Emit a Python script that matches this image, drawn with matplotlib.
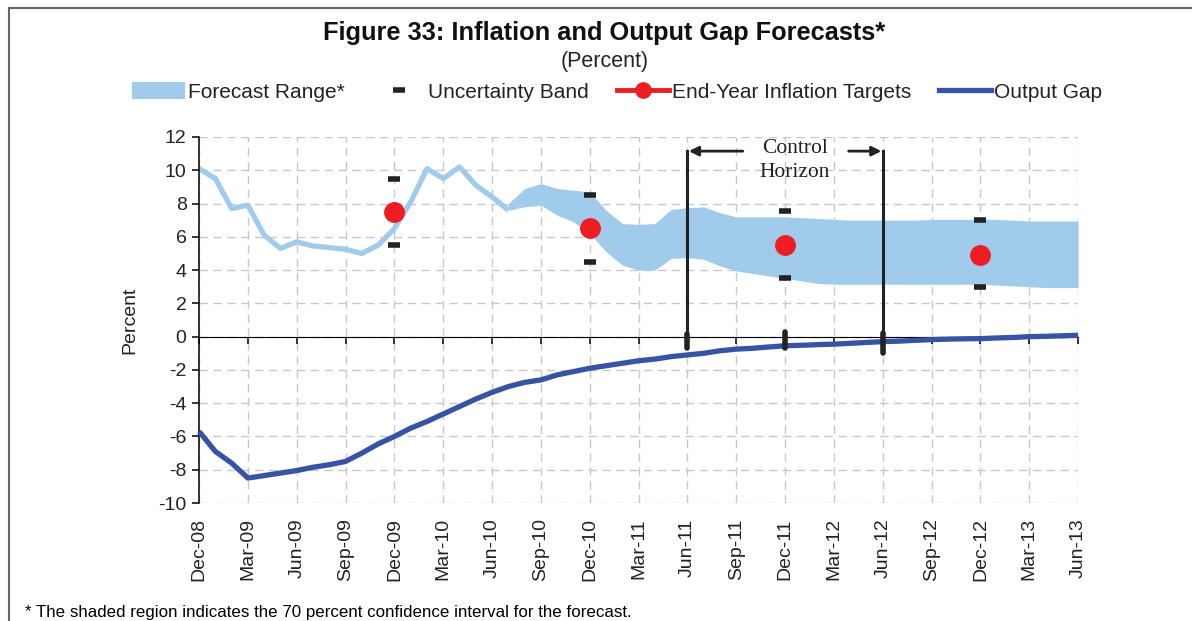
import numpy as np
import matplotlib
matplotlib.use('Agg')
from matplotlib import pyplot as plt
from matplotlib.patches import Patch
from matplotlib.lines import Line2D

plt.rcParams['font.family'] = ['Liberation Sans', 'DejaVu Sans']
plt.rcParams['axes.unicode_minus'] = False

# monthly axis, Dec-08 .. Jun-13
months = ['Dec-08', 'Jan-09', 'Feb-09', 'Mar-09', 'Apr-09', 'May-09', 'Jun-09', 'Jul-09', 'Aug-09',
          'Sep-09', 'Oct-09', 'Nov-09', 'Dec-09', 'Jan-10', 'Feb-10', 'Mar-10', 'Apr-10', 'May-10',
          'Jun-10', 'Jul-10', 'Aug-10', 'Sep-10', 'Oct-10', 'Nov-10', 'Dec-10', 'Jan-11', 'Feb-11',
          'Mar-11', 'Apr-11', 'May-11', 'Jun-11', 'Jul-11', 'Aug-11', 'Sep-11', 'Oct-11', 'Nov-11',
          'Dec-11', 'Jan-12', 'Feb-12', 'Mar-12', 'Apr-12', 'May-12', 'Jun-12', 'Jul-12', 'Aug-12',
          'Sep-12', 'Oct-12', 'Nov-12', 'Dec-12', 'Jan-13', 'Feb-13', 'Mar-13', 'Apr-13', 'May-13',
          'Jun-13']
tick_labels = months[::3]

# actual inflation, Dec-08 .. Jul-10
inflation = [10.1, 9.5, 7.7, 7.9, 6.1, 5.3, 5.7, 5.45, 5.35, 5.25, 5.0, 5.5, 6.5, 8.1,
             10.1, 9.5, 10.2, 9.1, 8.4, 7.6]

# forecast range, Jul-10 .. Jun-13
band_upper = [8.0, 8.9, 9.2, 8.9, 8.8, 8.7, 7.6, 6.8, 6.75, 6.8, 7.65, 7.75,
              7.8, 7.45, 7.2, 7.2, 7.2, 7.2, 7.15, 7.1, 7.05, 7.0, 7.0, 7.0,
              7.0, 7.0, 7.05, 7.05, 7.05, 7.05, 7.05, 7.0, 6.95, 6.95, 6.95, 6.95]
band_lower = [7.6, 7.8, 7.9, 7.3, 6.9, 6.2, 5.1, 4.3, 4.0, 4.0, 4.7, 4.75,
              4.65, 4.25, 3.95, 3.8, 3.65, 3.5, 3.35, 3.2, 3.15, 3.15, 3.15, 3.15,
              3.15, 3.15, 3.15, 3.15, 3.15, 3.15, 3.1, 3.05, 3.0, 2.95, 2.95, 2.95]

# output gap, Dec-08 .. Jun-13
output_gap = [-5.7, -6.9, -7.6, -8.5, -8.35, -8.2, -8.05, -7.85, -7.7, -7.5, -7.0, -6.45,
              -6.0, -5.5, -5.1, -4.65, -4.2, -3.75, -3.35, -3.0, -2.75, -2.6, -2.3, -2.1,
              -1.9, -1.75, -1.6, -1.45, -1.35, -1.2, -1.1, -1.0, -0.85, -0.75, -0.7, -0.62,
              -0.55, -0.52, -0.48, -0.45, -0.4, -0.35, -0.3, -0.27, -0.22, -0.18, -0.15, -0.13,
              -0.12, -0.08, -0.05, 0.0, 0.02, 0.05, 0.08]

# end-year targets and uncertainty band
target_months = ['Dec-09', 'Dec-10', 'Dec-11', 'Dec-12']
targets = [7.5, 6.5, 5.5, 4.9]
unc_upper = [9.5, 8.5, 7.55, 7.0]
unc_lower = [5.5, 4.5, 3.5, 3.0]

horizon_start, horizon_end = 'Jun-11', 'Jun-12'

light_blue = '#A0CBEB'
dark_blue = '#3753A4'
red = '#EE1D23'
ink = '#222222'

x_all = np.arange(len(months))
x_inf = np.arange(len(inflation))
x_band = np.arange(len(inflation) - 1, len(months))
x_tgt = [months.index(m) for m in target_months]
x_h0 = months.index(horizon_start)
x_h1 = months.index(horizon_end)

fig = plt.figure(figsize=(11.92, 6.21), dpi=100)
ax = fig.add_axes([0.1670, 0.190, 0.7375, 0.5894])

ax.fill_between(x_band, band_lower, band_upper, color=light_blue, lw=0, zorder=2)
ax.plot(x_inf, inflation, color=light_blue, lw=3.8, solid_capstyle='butt', zorder=2)
ax.plot(x_all, output_gap, color=dark_blue, lw=3.8, solid_capstyle='butt', zorder=3, clip_on=False)

ax.plot(x_tgt, unc_upper, ls='none', marker='_', ms=9, mew=4, color=ink, zorder=4)
ax.plot(x_tgt, unc_lower, ls='none', marker='_', ms=9, mew=4, color=ink, zorder=4)
ax.plot(x_tgt, targets, ls='none', marker='o', ms=14, color=red, mec=red, zorder=5)

# control horizon
ax.plot([x_h0, x_h0], [-0.7, 11.15], color=ink, lw=2.2, zorder=6, clip_on=False)
ax.plot([x_h1, x_h1], [-1.0, 11.15], color=ink, lw=2.2, zorder=6, clip_on=False)
ax.plot([x_h0, x_h0], [0.15, -0.7], color=ink, lw=4, zorder=6, solid_capstyle='round')
ax.plot([x_tgt[2], x_tgt[2]], [0.25, -0.7], color=ink, lw=4, zorder=6, solid_capstyle='round')
ax.plot([x_h1, x_h1], [0.2, -1.0], color=ink, lw=4, zorder=6, solid_capstyle='round')
ax.annotate('', xy=(x_h0, 11.15), xytext=(33.4, 11.15),
            arrowprops=dict(arrowstyle='-|>', color=ink, lw=2, mutation_scale=14,
                            shrinkA=0, shrinkB=1), zorder=6)
ax.annotate('', xy=(x_h1, 11.15), xytext=(39.9, 11.15),
            arrowprops=dict(arrowstyle='-|>', color=ink, lw=2, mutation_scale=14,
                            shrinkA=0, shrinkB=1), zorder=6)
ax.text(36.6, 11.3, 'Control', family='Liberation Serif', fontsize=15.5, ha='center', va='center',
        color=ink, zorder=6)
ax.text(36.6, 9.85, 'Horizon', family='Liberation Serif', fontsize=15.5, ha='center', va='center',
        color=ink, zorder=6)

ax.set_xlim(0, len(months) - 1)
ax.set_ylim(-10, 12)
ax.set_yticks(np.arange(-10, 13, 2))
ax.set_xticks(x_all[::3])
ax.grid(True, color='#C8C8C8', ls=(0, (6, 4)), lw=1)
ax.set_axisbelow(True)

for s in ['top', 'right']:
    ax.spines[s].set_visible(False)
ax.spines['bottom'].set_position(('data', 0))
ax.spines['bottom'].set_zorder(1)
ax.spines['left'].set_linewidth(1.1)
ax.tick_params(axis='x', direction='out', length=5, width=1.1, labelbottom=False)
ax.tick_params(axis='y', direction='out', length=5, width=1.1, labelsize=14, pad=4,
               labelcolor='#222222')

sec = ax.secondary_xaxis('bottom')
sec.set_xticks(x_all[::3], tick_labels)
sec.tick_params(length=0, pad=11, labelsize=14, labelrotation=90, labelcolor='#222222')
sec.spines['bottom'].set_visible(False)

ax.set_ylabel('Percent', fontsize=14, labelpad=14, color='#222222')

fig.text(0.507, 1 - 33 / 621, 'Figure 33: Inflation and Output Gap Forecasts*', fontsize=18.3,
         fontweight='bold', ha='center', va='center', color='#111111')
fig.text(0.507, 1 - 62 / 621, '(Percent)', fontsize=15.5, ha='center', va='center', color='#222222')

handles = [Patch(facecolor=light_blue, edgecolor='none'),
           Line2D([], [], ls='none', marker='_', ms=8, mew=4, color=ink),
           Line2D([], [], color=red, lw=3.5, marker='o', ms=11),
           Line2D([], [], color=dark_blue, lw=3.8)]
labels = ['Forecast Range*', 'Uncertainty Band', 'End-Year Inflation Targets', 'Output Gap']
fig.legend(handles, labels, loc='center', bbox_to_anchor=(0.518, 1 - 92 / 621), ncol=4,
           frameon=False, fontsize=15, handlelength=2.5, handleheight=0.9, handletextpad=0.15,
           columnspacing=1.35, labelcolor='#222222')

fig.text(25 / 1192, 1 - 612 / 621, '* The shaded region indicates the 70 percent confidence interval for the forecast.',
         fontsize=12.2, ha='left', va='center')

# frame around figure
fig.add_artist(Line2D([9 / 1192, 1], [1 - 8 / 621, 1 - 8 / 621], color='#666666', lw=1.5))
fig.add_artist(Line2D([9 / 1192, 9 / 1192], [0, 1 - 8 / 621], color='#666666', lw=1.5))

fig.savefig('out.png', dpi=100)
